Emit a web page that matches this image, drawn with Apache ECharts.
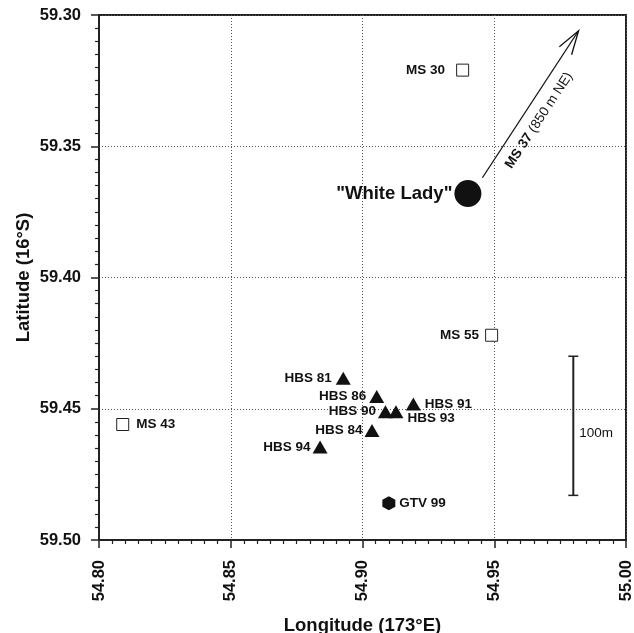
<!DOCTYPE html>
<html>
<head>
<meta charset="utf-8">
<script src="https://cdn.jsdelivr.net/npm/echarts@6/dist/echarts.min.js"></script>
<style>html,body{margin:0;padding:0;background:#fff}#c{width:634px;height:633px}</style>
</head>
<body>
<div id="c"></div>
<script>
// ---- data ----
const squareNames = ['MS 30', 'MS 55', 'MS 43'];
const squareLon = [54.938, 54.949, 54.809];
const squareLat = [59.321, 59.422, 59.456];

const circleNames = ['"White Lady"'];
const circleLon = [54.940];
const circleLat = [59.368];

const triNames = ['HBS 81', 'HBS 86', 'HBS 91', 'HBS 90', 'HBS 93', 'HBS 84', 'HBS 94'];
const triLon = [54.8927, 54.9054, 54.9193, 54.9087, 54.9127, 54.9036, 54.8839];
const triLat = [59.4384, 59.4453, 59.4482, 59.4511, 59.4511, 59.4583, 59.4646];

const hexNames = ['GTV 99'];
const hexLon = [54.910];
const hexLat = [59.486];

const arrowFrom = [54.9455, 59.362];
const arrowTo = [54.982, 59.306];
const arrowLabelBold = 'MS 37';
const arrowLabelRest = ' (850 m NE)';

const scaleLon = [54.980];
const scaleLatTop = [59.430];
const scaleLatBottom = [59.483];
const scaleText = '100m';

const lonTicks = [54.80, 54.85, 54.90, 54.95, 55.00];
const latTicks = [59.30, 59.35, 59.40, 59.45, 59.50];

// ---- label styling (sides / distances per station) ----
const labelStyle = {
  'MS 30': {position: 'left', distance: 11},
  'MS 55': {position: 'left', distance: 6},
  'MS 43': {position: 'right', distance: 7},
  '"White Lady"': {position: 'left', distance: 2},
  'HBS 81': {position: 'left', distance: 4},
  'HBS 86': {position: 'left', distance: 3},
  'HBS 91': {position: 'right', distance: 4},
  'HBS 90': {position: 'left', distance: 2},
  'HBS 93': {position: 'right', distance: 4, offset: [0, 7]},
  'HBS 84': {position: 'left', distance: 2},
  'HBS 94': {position: 'left', distance: 2},
  'GTV 99': {position: 'right', distance: 4}
};

const FONT = '"Liberation Sans", Arial, Helvetica, sans-serif';
const INK = '#111';

function pts(names, lon, lat) {
  return names.map((n, i) => {
    const ls = labelStyle[n] || {};
    return {
      name: n,
      value: [lon[i], lat[i]],
      label: Object.assign({}, ls)
    };
  });
}

const baseLabel = {
  show: true,
  formatter: '{b}',
  fontFamily: FONT,
  fontWeight: 'bold',
  fontSize: 13.5,
  color: INK,
  opacity: 1
};

const chart = echarts.init(document.getElementById('c'), null, {renderer: 'canvas'});

const option = {
  animation: false,
  backgroundColor: '#fff',
  grid: {
    left: 99, right: 8, top: 15, bottom: 93,
    containLabel: false, outerBoundsMode: 'none',
    show: true, borderColor: '#222', borderWidth: 2, backgroundColor: 'transparent'
  },
  xAxis: {
    type: 'value',
    min: lonTicks[0], max: lonTicks[lonTicks.length - 1], interval: 0.05,
    name: 'Longitude (173°E)', nameLocation: 'middle', nameGap: 76, nameMoveOverlap: false,
    nameTextStyle: {fontFamily: FONT, fontWeight: 'bold', fontSize: 18.5, color: INK},
    axisLine: {show: true, lineStyle: {color: '#222', width: 2}},
    axisTick: {show: true, length: 8, lineStyle: {color: '#222', width: 1.5}},
    minorTick: {show: true, splitNumber: 10, length: 4, lineStyle: {color: '#222', width: 1.2}},
    splitLine: {show: true, lineStyle: {color: '#555', width: 1, type: [1, 2]}},
    axisLabel: {
      rotate: 90, margin: 20, fontFamily: FONT, fontWeight: 'bold', fontSize: 16.5, color: INK,
      formatter: v => v.toFixed(2)
    }
  },
  yAxis: {
    type: 'value', inverse: true,
    min: latTicks[0], max: latTicks[latTicks.length - 1], interval: 0.05,
    name: 'Latitude (16°S)', nameLocation: 'middle', nameGap: 66, nameRotate: 90, nameMoveOverlap: false,
    nameTextStyle: {fontFamily: FONT, fontWeight: 'bold', fontSize: 18.5, color: INK},
    axisLine: {show: true, lineStyle: {color: '#222', width: 2}},
    axisTick: {show: true, length: 8, lineStyle: {color: '#222', width: 1.5}},
    minorTick: {show: true, splitNumber: 10, length: 4, lineStyle: {color: '#222', width: 1.2}},
    splitLine: {show: true, lineStyle: {color: '#555', width: 1, type: [1, 2]}},
    axisLabel: {
      margin: 18, fontFamily: FONT, fontWeight: 'bold', fontSize: 16.5, color: INK,
      formatter: v => v.toFixed(2)
    }
  },
  series: [
    {
      type: 'scatter', name: 'squares',
      symbol: 'rect', symbolSize: 12,
      itemStyle: {color: '#fff', borderColor: '#222', borderWidth: 1, opacity: 1},
      label: baseLabel,
      data: pts(squareNames, squareLon, squareLat)
    },
    {
      type: 'scatter', name: 'circle',
      symbol: 'circle', symbolSize: 27,
      itemStyle: {color: INK, opacity: 1},
      label: Object.assign({}, baseLabel, {fontSize: 18.5}),
      data: pts(circleNames, circleLon, circleLat)
    },
    {
      type: 'scatter', name: 'triangles',
      symbol: 'triangle', symbolSize: [15, 13],
      itemStyle: {color: INK, opacity: 1},
      label: baseLabel,
      data: pts(triNames, triLon, triLat)
    },
    {
      type: 'scatter', name: 'hexagon',
      symbol: 'path://M0.5,0 L1,0.25 L1,0.75 L0.5,1 L0,0.75 L0,0.25 Z', symbolSize: [13, 14],
      itemStyle: {color: INK, opacity: 1},
      label: baseLabel,
      data: pts(hexNames, hexLon, hexLat)
    },
    {
      type: 'custom', name: 'arrow',
      data: [[arrowFrom[0], arrowFrom[1], arrowTo[0], arrowTo[1]]],
      renderItem: function (params, api) {
        const p1 = api.coord([api.value(0), api.value(1)]);
        const p2 = api.coord([api.value(2), api.value(3)]);
        const dx = p2[0] - p1[0], dy = p2[1] - p1[1];
        const len = Math.hypot(dx, dy);
        const ux = dx / len, uy = dy / len;
        const hl = 25, ha = 17 * Math.PI / 180;
        const bx = -ux, by = -uy;
        const b1 = [p2[0] + hl * (bx * Math.cos(ha) - by * Math.sin(ha)), p2[1] + hl * (bx * Math.sin(ha) + by * Math.cos(ha))];
        const b2 = [p2[0] + hl * (bx * Math.cos(-ha) - by * Math.sin(-ha)), p2[1] + hl * (bx * Math.sin(-ha) + by * Math.cos(-ha))];
        const px = -uy, py = ux;
        const t = 0.45 * len, off = 16;
        const tx = p1[0] + ux * t + px * off;
        const ty = p1[1] + uy * t + py * off;
        const ang = Math.atan2(-dy, dx);
        return {
          type: 'group',
          children: [
            {type: 'line', shape: {x1: p1[0], y1: p1[1], x2: p2[0], y2: p2[1]}, style: {stroke: INK, lineWidth: 1.3}},
            {type: 'polyline', shape: {points: [b1, p2, b2]}, style: {stroke: INK, fill: null, lineWidth: 1.3}},
            {
              type: 'text', x: tx, y: ty, rotation: ang,
              style: {
                text: '{b|' + arrowLabelBold + '}{r|' + arrowLabelRest + '}',
                rich: {
                  b: {fontFamily: FONT, fontWeight: 'bold', fontSize: 13.5, fill: INK},
                  r: {fontFamily: FONT, fontWeight: 'normal', fontSize: 13.5, fill: INK}
                },
                align: 'center', verticalAlign: 'middle'
              }
            }
          ]
        };
      }
    },
    {
      type: 'custom', name: 'scalebar',
      data: scaleLon.map((x, i) => [x, scaleLatTop[i], scaleLatBottom[i]]),
      renderItem: function (params, api) {
        const top = api.coord([api.value(0), api.value(1)]);
        const bot = api.coord([api.value(0), api.value(2)]);
        const hw = 5;
        const midY = (top[1] + bot[1]) / 2;
        return {
          type: 'group',
          children: [
            {type: 'line', shape: {x1: top[0], y1: top[1], x2: bot[0], y2: bot[1]}, style: {stroke: '#222', lineWidth: 2}},
            {type: 'line', shape: {x1: top[0] - hw, y1: top[1], x2: top[0] + hw, y2: top[1]}, style: {stroke: '#222', lineWidth: 1.5}},
            {type: 'line', shape: {x1: bot[0] - hw, y1: bot[1], x2: bot[0] + hw, y2: bot[1]}, style: {stroke: '#222', lineWidth: 1.5}},
            {
              type: 'text', x: top[0] + 6, y: midY + 7,
              style: {text: scaleText, fontFamily: FONT, fontSize: 13.5, fill: INK, align: 'left', verticalAlign: 'middle'}
            }
          ]
        };
      }
    }
  ]
};
chart.setOption(option);
</script>
</body>
</html>
